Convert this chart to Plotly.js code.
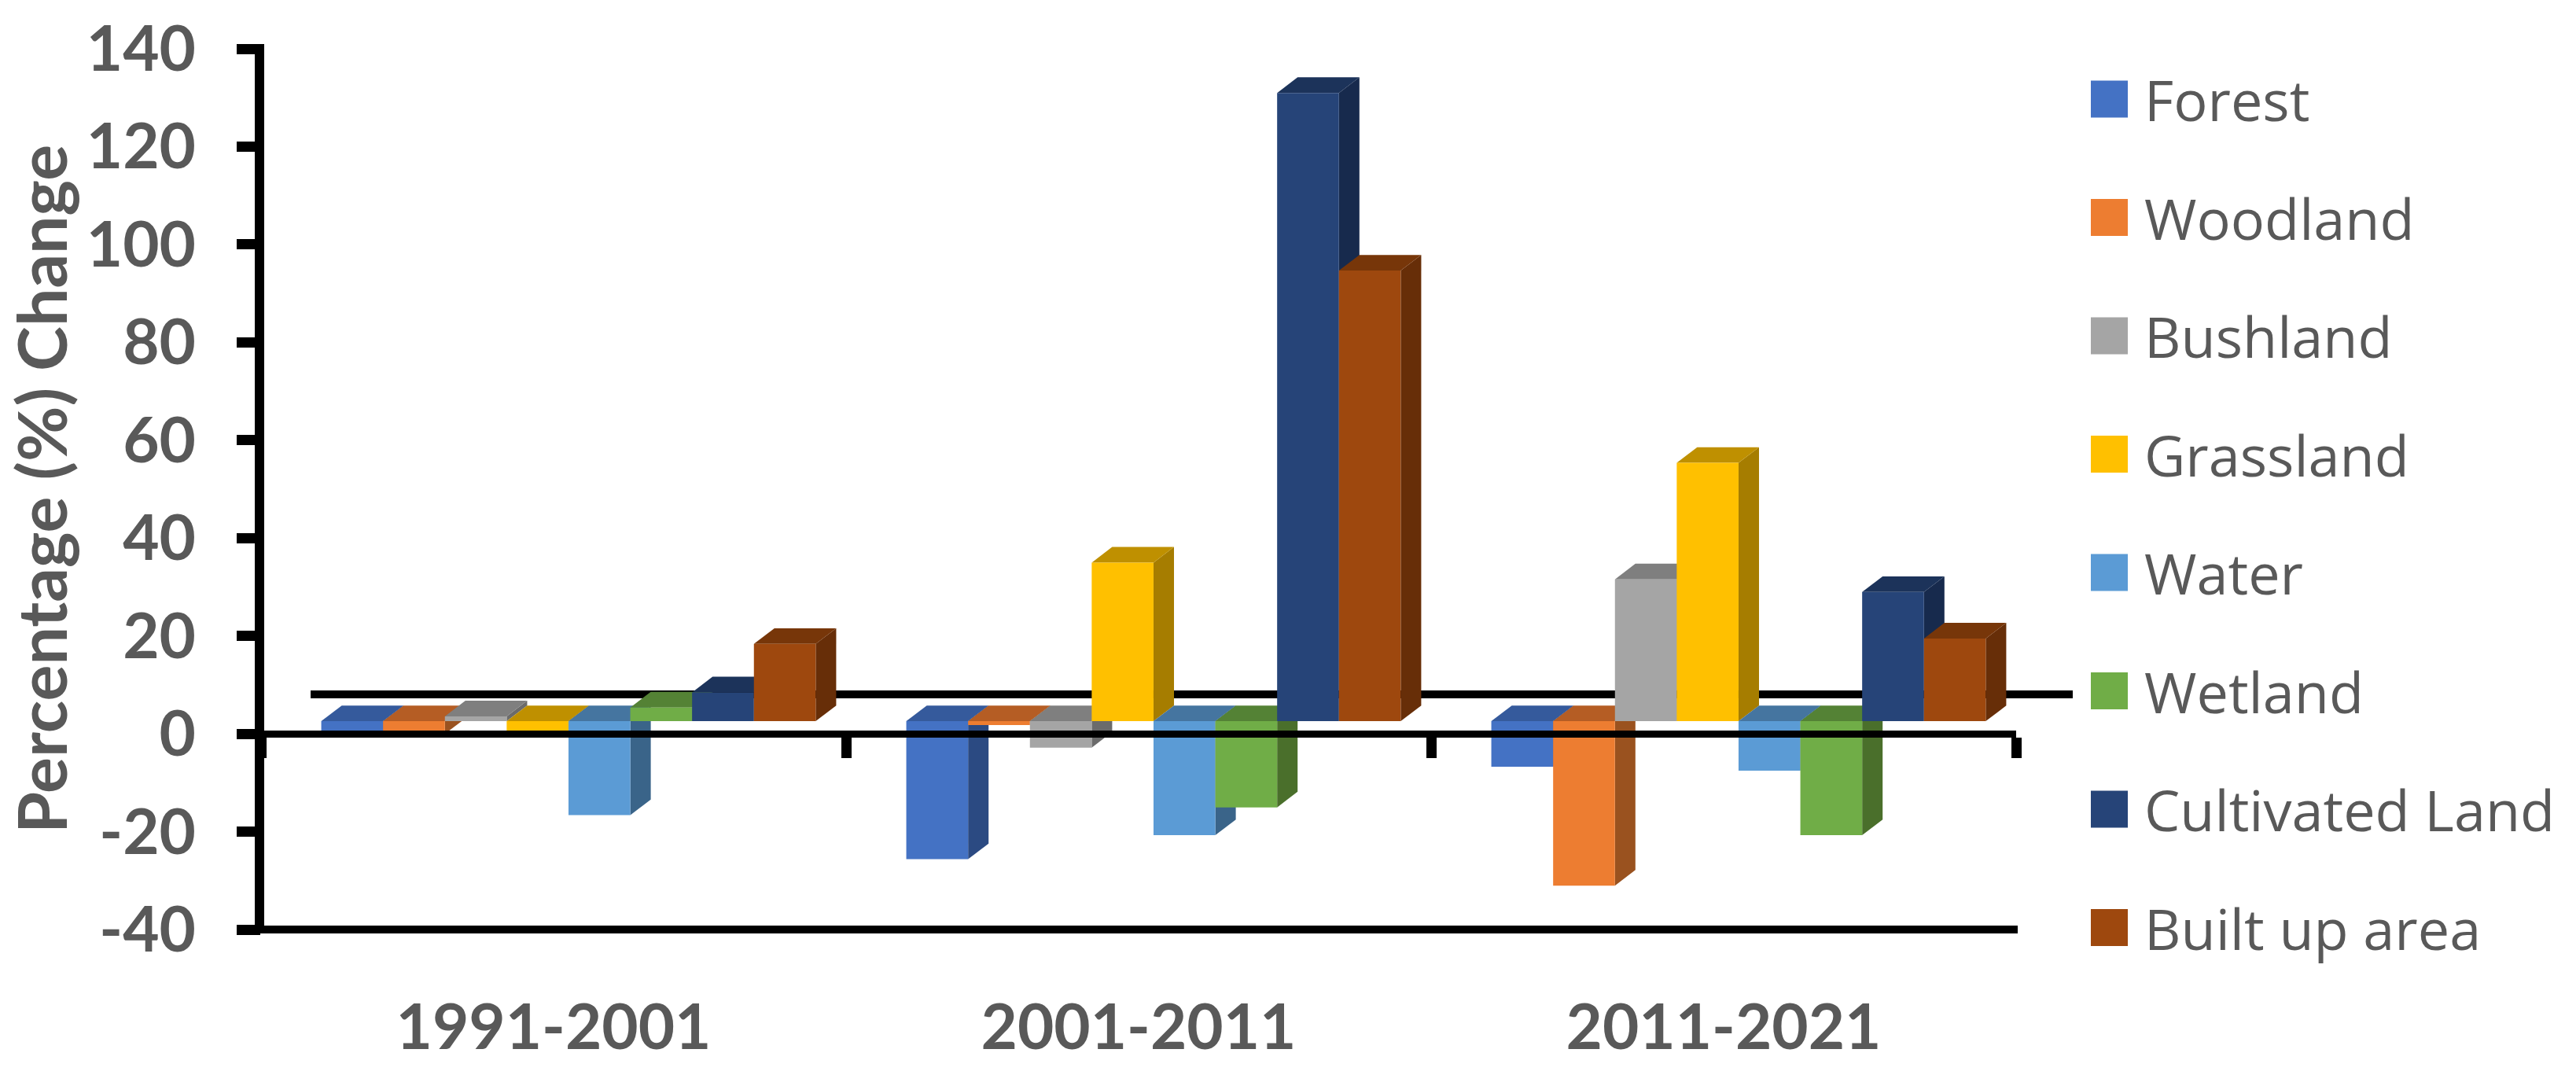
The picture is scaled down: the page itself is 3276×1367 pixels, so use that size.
<!DOCTYPE html>
<html>
<head>
<meta charset="utf-8">
<script src="https://cdn.plot.ly/plotly-3.0.1.min.js"></script>
<style>body { margin: 0; background: #fff; }</style>
</head>
<body>
<div id="graph"></div>
<script>
// Data (bar heights from the 3D floor)
const periods = ["1991-2001", "2001-2011", "2011-2021"];
const names = ["Forest", "Woodland", "Bushland", "Grassland", "Water", "Wetland", "Cultivated Land", "Built up area"];
const forest = [-2.6, -28.2, -9.3];
const woodland = [-2.6, -0.8, -33.6];
const bushland = [1.0, -5.4, 29.0];
const grassland = [-2.6, 32.4, 52.8];
const water = [-19.2, -23.3, -10.1];
const wetland = [2.8, -17.6, -23.3];
const cultivated = [5.9, 128.4, 26.4];
const builtUp = [15.8, 92.1, 16.9];
const yTicks = [-40, -20, 0, 20, 40, 60, 80, 100, 120, 140];

const series = [forest, woodland, bushland, grassland, water, wetland, cultivated, builtUp];
const front = ["#4472C4", "#ED7D31", "#A5A5A5", "#FFC000", "#5B9BD5", "#70AD47", "#264478", "#9E480E"];
const topFace = ["#355A9C", "#B55D24", "#7F7F7F", "#BF9000", "#4575A0", "#548235", "#1C335A", "#773609"];
const sideFace = ["#2B4A82", "#9A521F", "#6B6B6B", "#A67D00", "#3A6489", "#4A6F2B", "#172A4D", "#672E08"];

// Plot area in pixels
const L = 332, R = 2564, T = 62, B = 1182;
const px = x => (x - L) / (R - L);
const py = y => (B - y) / (B - T);

// 3D look: floor offset, bar width and depth in axis units
const floor = 2.57;
const barW = 78.6 / 744;
const shift = 0.0255;
const dx = 0.035;
const dy = 3.2;

const traces = series.map((vals, i) => ({
    type: 'bar',
    name: names[i],
    x: periods,
    y: vals,
    base: vals.map(() => floor),
    width: barW,
    offset: (i - 4) * barW + shift,
    marker: { color: front[i], line: { width: 0 } },
    showlegend: false
}));

const shapes = [];
// back floor line, behind the bars
shapes.push({
    type: 'line', layer: 'below', xref: 'paper', yref: 'paper',
    x0: px(395), x1: px(2636), y0: py(883), y1: py(883),
    line: { color: '#000', width: 10 }
});
// side and top faces of every bar
series.forEach((vals, i) => {
    vals.forEach((v, k) => {
        const x0 = k + (i - 4) * barW + shift;
        const x1 = x0 + barW;
        const hi = floor + Math.max(v, 0);
        const lo = floor + Math.min(v, 0);
        shapes.push({
            type: 'path', layer: 'below', xref: 'x', yref: 'y', line: { width: 0 }, fillcolor: sideFace[i],
            path: `M${x1},${lo}L${x1 + dx},${lo + dy}L${x1 + dx},${hi + dy}L${x1},${hi}Z`
        });
        shapes.push({
            type: 'path', layer: 'below', xref: 'x', yref: 'y', line: { width: 0 }, fillcolor: topFace[i],
            path: `M${x0},${hi}L${x0 + dx},${hi + dy}L${x1 + dx},${hi + dy}L${x1},${hi}Z`
        });
    });
});
// bottom line and the vertical axis line
shapes.push({
    type: 'line', layer: 'above', xref: 'paper', yref: 'paper',
    x0: px(326), x1: px(2566), y0: py(1182), y1: py(1182),
    line: { color: '#000', width: 10 }
});
shapes.push({
    type: 'line', layer: 'above', xref: 'paper', yref: 'paper',
    x0: px(330), x1: px(330), y0: py(56), y1: py(1187),
    line: { color: '#000', width: 12 }
});

// hand made legend, the built-in swatch can't be sized
const annotations = [];
names.forEach((n, i) => {
    const yc = 126 + i * 150.5;
    shapes.push({
        type: 'rect', xref: 'paper', yref: 'paper', layer: 'above', line: { width: 0 }, fillcolor: front[i],
        x0: px(2659), x1: px(2706), y0: py(yc - 23.5), y1: py(yc + 23.5)
    });
    annotations.push({
        xref: 'paper', yref: 'paper', x: px(2725), y: py(yc), xanchor: 'left', yanchor: 'middle',
        text: n, showarrow: false,
        font: { family: 'Open Sans', size: 72, color: '#595959' }
    });
});

const layout = {
    width: 3276,
    height: 1367,
    autosize: false,
    margin: { l: L, r: 3276 - R, t: T, b: 1367 - B, pad: 0 },
    paper_bgcolor: '#fff',
    plot_bgcolor: '#fff',
    barmode: 'overlay',
    showlegend: false,
    xaxis: {
        type: 'category',
        range: [-0.5, 2.5],
        anchor: 'free',
        position: 40 / 180,
        showline: true,
        linecolor: '#000',
        linewidth: 9,
        ticks: 'outside',
        tickson: 'boundaries',
        ticklen: 26,
        tickwidth: 13,
        tickcolor: '#000',
        showgrid: false,
        zeroline: false,
        ticklabelstandoff: 300,
        tickfont: { family: 'Lato', size: 80, color: '#595959', weight: 'bold' }
    },
    yaxis: {
        range: [-40, 140],
        tickvals: yTicks,
        ticktext: yTicks.map(String),
        showline: false,
        ticks: 'outside',
        ticklen: 30,
        tickwidth: 13,
        tickcolor: '#000',
        showgrid: false,
        zeroline: false,
        ticklabelstandoff: 36,
        tickfont: { family: 'Lato', size: 80, color: '#595959', weight: 'bold' },
        title: {
            text: 'Percentage (%) Change',
            standoff: 0,
            font: { family: 'Lato', size: 86, color: '#595959', weight: 'bold' }
        }
    },
    shapes: shapes,
    annotations: annotations
};

Plotly.newPlot('graph', traces, layout, { displayModeBar: false });
</script>
</body>
</html>
